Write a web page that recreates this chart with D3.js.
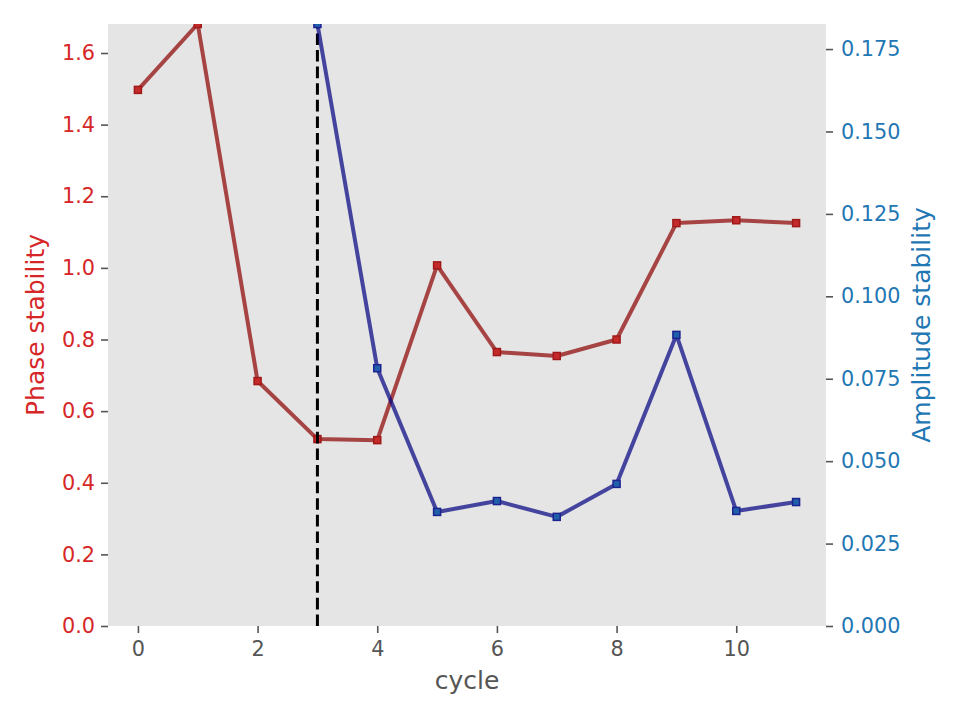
<!DOCTYPE html>
<html><head><meta charset="utf-8">
<script src="https://cdn.jsdelivr.net/npm/d3@7"></script>
<style>body{margin:0;background:#fff}svg{display:block}text{font-family:"DejaVu Sans",sans-serif}</style>
</head><body>
<svg id="c" width="960" height="720"></svg>
<script>
const cycles = [0,1,2,3,4,5,6,7,8,9,10,11];
const phase = [1.497,1.681,0.684,0.522,0.519,1.007,0.765,0.754,0.800,1.125,1.133,1.125];
const ampCycles = [3,4,5,6,7,8,9,10,11];
const amplitude = [0.1826,0.0782,0.0346,0.0379,0.0331,0.0431,0.0883,0.0349,0.0376];
const xTicks = [0,2,4,6,8,10];
const phaseTicks = [0,0.2,0.4,0.6,0.8,1.0,1.2,1.4,1.6];
const ampTicks = [0,0.025,0.05,0.075,0.1,0.125,0.15,0.175];
const markerCycle = 3;

const svg = d3.select("#c");
const L=108,R=826,T=24,B=626;
const x = d3.scaleLinear().domain([-0.5,11.5]).range([L,R]);
const yL = d3.scaleLinear().domain([0,1.681]).range([B,T]);
const yR = d3.scaleLinear().domain([0,0.1826]).range([B,T]);

svg.append("rect").attr("x",L).attr("y",T).attr("width",R-L).attr("height",B-T).attr("fill","#E5E5E5");
svg.append("clipPath").attr("id","clip").append("rect").attr("x",L).attr("y",T).attr("width",R-L).attr("height",B-T);

function styleAxis(g,color){
  g.select(".domain").remove();
  g.selectAll(".tick line").attr("stroke","#555555").attr("stroke-width",1.6);
  g.selectAll(".tick text").attr("fill",color).attr("font-size","20.8px").attr("font-family","DejaVu Sans");
}
const gx = svg.append("g").attr("transform",`translate(0,${B})`)
  .call(d3.axisBottom(x).tickValues(xTicks).tickFormat(d3.format("d")).tickSize(7).tickPadding(8));
styleAxis(gx,"#555555");
const gl = svg.append("g").attr("transform",`translate(${L},0)`)
  .call(d3.axisLeft(yL).tickValues(phaseTicks).tickFormat(d3.format(".1f")).tickSize(7).tickPadding(6));
styleAxis(gl,"#d62728");
const gr = svg.append("g").attr("transform",`translate(${R},0)`)
  .call(d3.axisRight(yR).tickValues(ampTicks).tickFormat(d3.format(".3f")).tickSize(7).tickPadding(8));
styleAxis(gr,"#1f77b4");

svg.append("text").attr("x",(L+R)/2).attr("y",689).attr("text-anchor","middle")
  .attr("font-size","25px").attr("fill","#555555").text("cycle");
svg.append("text").attr("transform",`translate(44,${(T+B)/2}) rotate(-90)`).attr("text-anchor","middle")
  .attr("font-size","25px").attr("fill","#d62728").text("Phase stability");
svg.append("text").attr("transform",`translate(930,${(T+B)/2}) rotate(-90)`).attr("text-anchor","middle")
  .attr("font-size","25px").attr("fill","#1f77b4").text("Amplitude stability");

const plot = svg.append("g").attr("clip-path","url(#clip)");
const pData = cycles.map((c,i)=>({c,v:phase[i]}));
const aData = ampCycles.map((c,i)=>({c,v:amplitude[i]}));

function series(data,y,lineColor,face,edge){
  const g = plot.append("g");
  g.append("path").datum(data)
    .attr("d",d3.line().x(d=>x(d.c)).y(d=>y(d.v)))
    .attr("fill","none").attr("stroke",lineColor).attr("stroke-opacity",0.7).attr("stroke-width",4).attr("stroke-linejoin","round");
  g.selectAll("rect").data(data).join("rect")
    .attr("x",d=>x(d.c)-3.5).attr("y",d=>y(d.v)-3.5).attr("width",7).attr("height",7)
    .attr("fill",face).attr("stroke",edge).attr("stroke-width",1.5);
  return g;
}
series(pData,yL,"#8B0000","#c42a2a","#a01818");
plot.append("line").attr("x1",x(markerCycle)).attr("x2",x(markerCycle)).attr("y1",B).attr("y2",T)
  .attr("stroke","#000").attr("stroke-width",3).attr("stroke-dasharray","11.6,5");
series(aData,yR,"#000080","#2060aa","#1c2290");
</script>
</body></html>
